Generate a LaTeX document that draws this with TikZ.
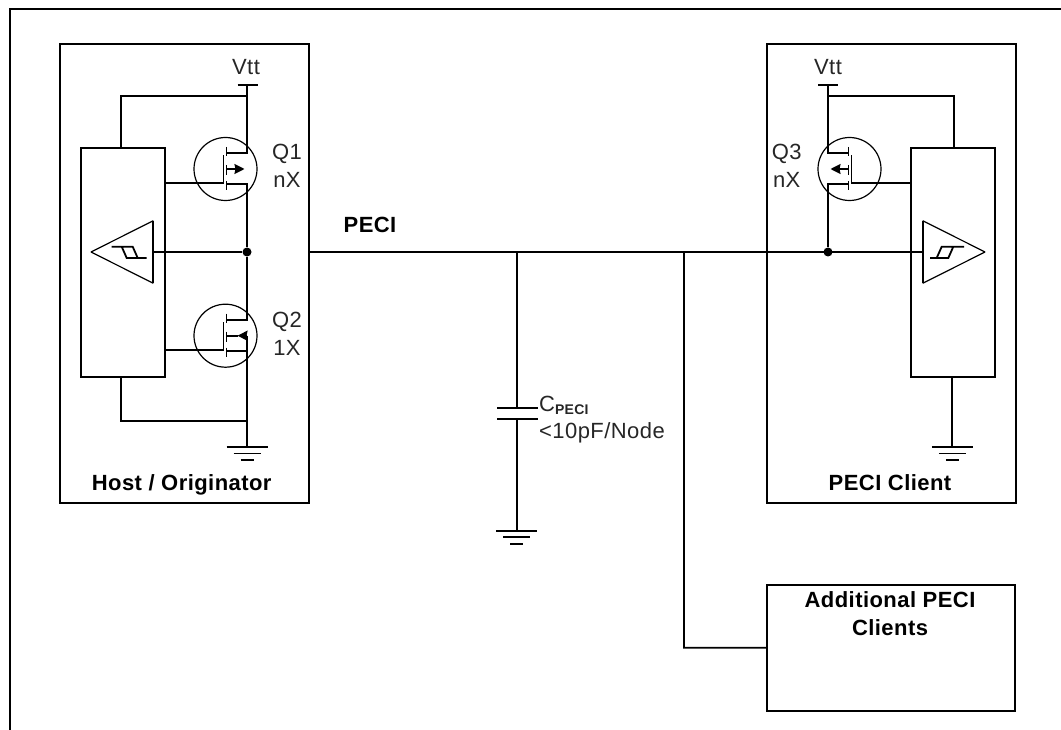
\documentclass[tikz,border=0pt]{standalone}
\usepackage{fontspec}
\setmainfont{Liberation Sans}
\newfontfamily\widefont[LetterSpace=2]{Liberation Sans}
\usetikzlibrary{arrows.meta}
\tikzset{
	wire/.style = {line width=1.8pt, line join=miter},
	thinwire/.style = {line width=1.2pt},
	dev_box/.style = {draw, line width=1.8pt, rectangle, inner sep=0pt},
	junction/.style = {circle, fill=black, inner sep=0pt, minimum size=9pt},
	lbl/.style = {align=center, inner sep=0pt, font=\widefont\fontsize{22}{28}\selectfont, text=black!85},
	lbl_b/.style = {align=center, inner sep=0pt, font=\widefont\bfseries\fontsize{22}{28}\selectfont},
	ground/.pic = {
		\draw[wire] (-20.5,0) -- (20.5,0);
		\draw[wire] (-13.5,6.5) -- (13.5,6.5);
		\draw[wire] (-6.5,13) -- (6.5,13);
	},
	mosfet/.pic = {
		\draw[thinwire] (0,0) circle (31.5);
		\draw[wire] (-22,14.3) coordinate (-gate) -- (-2,14.3) -- (-2,-14);
		\draw[wire] (1,-22) -- (1,-13) (1,-4) -- (1,6) (1,12) -- (1,21);
		\draw[wire] (21.5,-21) coordinate (-drain) -- (21.5,-16) -- (1,-16);
		\draw[wire] (1,15) -- (21.5,15) coordinate (-source) -- (21.5,21);
		\coordinate (-body) at (1,0);
		\coordinate (-mid) at (12,0);
		\coordinate (-tip) at (19,0);
		\coordinate (-tap) at (21.5,0);
	},
}
\begin{document}
\begin{tikzpicture}[x=1pt,y=-1pt,>={Stealth[length=10pt,width=10pt,inset=1pt]}]
	\useasboundingbox (0,0) rectangle (1061,730);
	\coordinate (frame_a) at (1061,9);
	\coordinate (frame_b) at (10,9);
	\coordinate (frame_c) at (10,730);
	\draw[wire] (frame_a) -- (frame_b) -- (frame_c);

	% host side
	\node[dev_box, minimum width=249pt, minimum height=459pt] (host) at (184.5,273.5) {};
	\node[dev_box, minimum width=84pt, minimum height=229pt] (host_in) at (122.7,262.5) {};
	\coordinate (host_tip) at (91,252);
	\coordinate (host_up) at (153.3,220.7);
	\coordinate (host_dn) at (153.3,283.3);
	\coordinate (host_out) at (153.3,252);
	\draw[thinwire] (host_tip) -- (host_up);
	\draw[thinwire] (host_tip) -- (host_dn);
	\draw[wire] (host_up) -- (host_dn);
	\draw[wire] (111.7,246.7) -- (132.7,246.7) -- (137.7,258) (121.7,246.7) -- (126.7,258) -- (146.7,258);
	\pic (q1) at (225.5,169) {mosfet};
	\pic (q2) at (225.5,335.7) {mosfet};
	\coordinate (vtt_a) at (247,85);
	\coordinate (vtt_a_l) at (237.5,85);
	\coordinate (vtt_a_r) at (257.5,85);
	\coordinate (fb_a) at (247,96);
	\coordinate (fb_a_c) at (121,96);
	\coordinate (fb_b) at (247,421);
	\coordinate (fb_b_c) at (121,421);
	\coordinate (gnd_a) at (247,447);
	\node[junction] (dot_a) at (247,252) {};
	\draw[wire] (vtt_a_l) -- (vtt_a_r);
	\draw[wire] (vtt_a) -- (q1-drain);
	\draw[wire] (fb_a) -- (fb_a_c) -- (fb_a_c |- host_in.north);
	\draw[wire] (q1-source) -- (dot_a) -- (q2-drain);
	\draw[wire] (q2-tap) -- (gnd_a);
	\draw[wire] (fb_b) -- (fb_b_c) -- (fb_b_c |- host_in.south);
	\draw[wire] (host_out) -- (dot_a);
	\draw[wire] (q1-gate) -- (q1-gate -| host_in.east);
	\draw[wire] (q2-gate) -- (q2-gate -| host_in.east);
	\draw[wire,->] (q1-body) -- (q1-tip);
	\draw[wire] (q2-body) -- (q2-mid);
	\draw[wire,->] (q2-tap) -- (q2-mid);
	\pic at (gnd_a) {ground};
	\node[lbl, anchor=base] (vtt_a_t) at (246,75) {Vtt};
	\node[lbl] (q1_t) at (287,166) {Q1\\nX};
	\node[lbl] (q2_t) at (287,334) {Q2\\1X};
	\node[lbl_b, anchor=base] (host_t) at (181.7,490.7) {Host / Originator};

	% client side
	\node[dev_box, minimum width=249pt, minimum height=459pt] (client) at (891.2,273.5) {};
	\node[dev_box, minimum width=84pt, minimum height=229pt] (client_in) at (953,262.5) {};
	\coordinate (client_in_pt) at (922.7,252);
	\coordinate (client_up) at (922.7,220.7);
	\coordinate (client_dn) at (922.7,283.3);
	\coordinate (client_tip) at (985,252);
	\draw[thinwire] (client_tip) -- (client_up);
	\draw[thinwire] (client_tip) -- (client_dn);
	\draw[wire] (client_up) -- (client_dn);
	\draw[wire] (964,246.7) -- (941.7,246.7) -- (936.7,258) (953.3,246.7) -- (948.3,258) -- (930,258);
	\pic[xscale=-1] (q3) at (849.5,169) {mosfet};
	\coordinate (vtt_b) at (828,85);
	\coordinate (vtt_b_l) at (818,85);
	\coordinate (vtt_b_r) at (838,85);
	\coordinate (fb_c) at (828,96);
	\coordinate (fb_c_c) at (954,96);
	\coordinate (gnd_b) at (952.3,447);
	\node[junction] (dot_b) at (828,252) {};
	\draw[wire] (vtt_b_l) -- (vtt_b_r);
	\draw[wire] (vtt_b) -- (q3-drain);
	\draw[wire] (fb_c) -- (fb_c_c) -- (fb_c_c |- client_in.north);
	\draw[wire] (q3-source) -- (dot_b);
	\draw[wire] (q3-gate) -- (q3-gate -| client_in.west);
	\draw[wire,->] (q3-body) -- (q3-tip);
	\draw[wire] (gnd_b |- client_in.south) -- (gnd_b);
	\pic at (gnd_b) {ground};
	\node[lbl, anchor=base] (vtt_b_t) at (828,75) {Vtt};
	\node[lbl] (q3_t) at (786.7,166) {Q3\\nX};
	\node[lbl_b, anchor=base] (client_t) at (890,490.7) {PECI Client};

	% bus
	\coordinate (cap_tap) at (516.7,252);
	\coordinate (cap_a) at (516.7,408);
	\coordinate (cap_b) at (516.7,419);
	\coordinate (cap_a_l) at (497,408);
	\coordinate (cap_a_r) at (537.7,408);
	\coordinate (cap_b_l) at (497,419);
	\coordinate (cap_b_r) at (537.7,419);
	\coordinate (gnd_c) at (516.7,530.7);
	\coordinate (branch_a) at (684,252);
	\coordinate (branch_b) at (684,647.7);
	\node[dev_box, minimum width=248.3pt, minimum height=126.3pt] (extra) at (891.2,647.8) {};
	\draw[wire] (host.east |- dot_a) -- (client_in_pt);
	\draw[wire] (cap_tap) -- (cap_a);
	\draw[wire] (cap_a_l) -- (cap_a_r);
	\draw[wire] (cap_b_l) -- (cap_b_r);
	\draw[wire] (cap_b) -- (gnd_c);
	\pic at (gnd_c) {ground};
	\draw[wire] (branch_a) -- (branch_b) -- (extra.west);
	\node[lbl_b, anchor=base] (peci_t) at (370,232.7) {PECI};
	\node[lbl, anchor=base west] (cap_t) at (539,411.7) {C\raisebox{-3pt}{\fontsize{14}{16}\selectfont\bfseries PECI}};
	\node[lbl, anchor=base west] (cap_v) at (539,438.3) {<10pF/Node};
	\node[lbl_b] (extra_t) at (890,613.5) {Additional PECI\\Clients};
\end{tikzpicture}
\end{document}
